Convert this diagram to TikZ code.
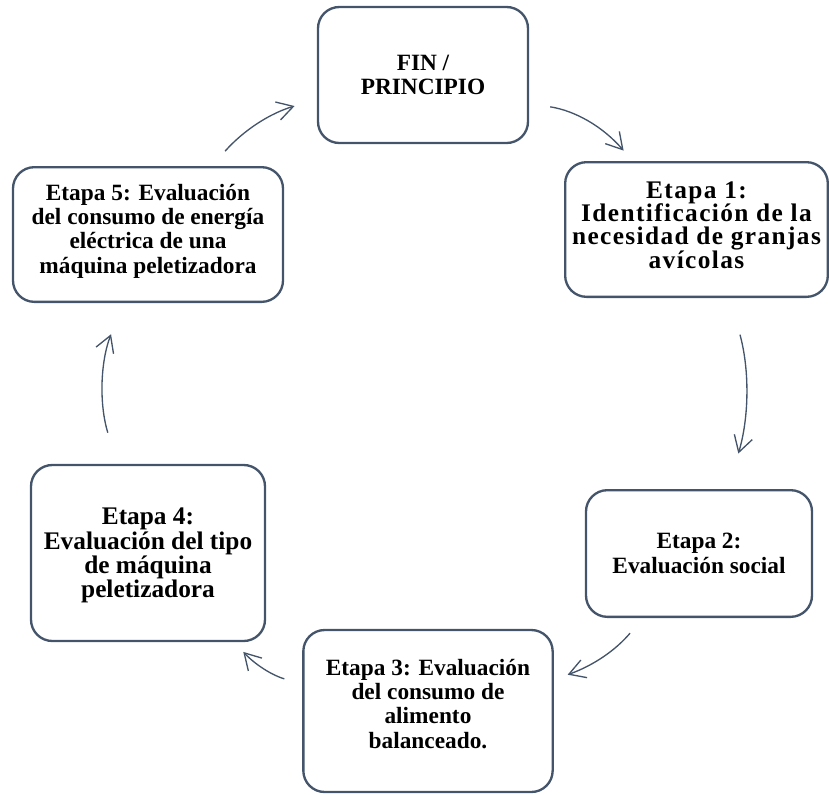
\documentclass[tikz,border=0pt]{standalone}
\usepackage{fontspec}
\setmainfont{Liberation Serif}
\usetikzlibrary{arrows.meta}
\definecolor{linea}{HTML}{44546A}
\newcommand{\apretado}{\lineskiplimit -10pt\relax}
\newcommand{\espaciado}{\addfontfeature{LetterSpace=5.5}}
\tikzset{
  etapa/.style={draw=linea, line width=1.75pt, rounded corners=16pt, align=center,
    inner sep=2pt, font=\bfseries\fontsize{17.5}{18.3}\selectfont},
  flecha/.style={draw=linea, line width=1pt, -{Straight Barb[length=12pt,width=14pt]}},
}
\begin{document}
\begin{tikzpicture}[x=0.75pt,y=-0.75pt]
  \useasboundingbox (0,0) rectangle (829,794);
  % etapas del ciclo
  \node[etapa, minimum width=157.5pt, minimum height=102pt] (fin) at (423,75) {FIN /\\PRINCIPIO};
  \node[etapa, minimum width=197pt, minimum height=101pt, text depth=7pt,
    font={\bfseries\fontsize{19}{17.5}\selectfont\espaciado\apretado}] (e1) at (696.5,229.5)
    {Etapa 1:\\Identificación de la\\necesidad de granjas\\avícolas};
  \node[etapa, minimum width=169.5pt, minimum height=95pt] (e2) at (699,553.5)
    {Etapa 2:\\Evaluación social};
  \node[etapa, minimum width=187pt, minimum height=121.5pt, text depth=11pt] (e3) at (428,711)
    {Etapa 3: Evaluación\\del consumo de\\alimento\\balanceado.};
  \node[etapa, minimum width=175.5pt, minimum height=132pt, text depth=0pt,
    font=\bfseries\fontsize{19}{18.3}\selectfont] (e4) at (148,553)
    {Etapa 4:\\Evaluación del tipo\\de máquina\\peletizadora};
  \node[etapa, minimum width=202.5pt, minimum height=101pt, text depth=9pt] (e5) at (148,234.5)
    {Etapa 5: Evaluación\\del consumo de energía\\eléctrica de una\\máquina peletizadora};
  % flechas
  \draw[flecha, shorten <=16pt, shorten >=10.3pt] (fin.-15.4) to[bend left=20] (e1.133.9);
  \draw[flecha, shorten <=28.5pt, shorten >=27.75pt] (e1.-64.8) to[bend left=16] (e2.66.4);
  \draw[flecha, shorten <=14.9pt, shorten >=11pt] (e2.229.4) to[bend left=15] (e3.14.2);
  \draw[flecha, shorten <=14pt, shorten >=10pt] (e3.168.4) to[bend left=15] (e4.-46.8);
  \draw[flecha, shorten <=24.4pt, shorten >=25.1pt] (e4.109) to[bend left=19] (e5.250.7);
  \draw[flecha, shorten <=14.9pt, shorten >=17.4pt] (e5.47.7) to[bend left=16] (fin.193);
\end{tikzpicture}
\end{document}
